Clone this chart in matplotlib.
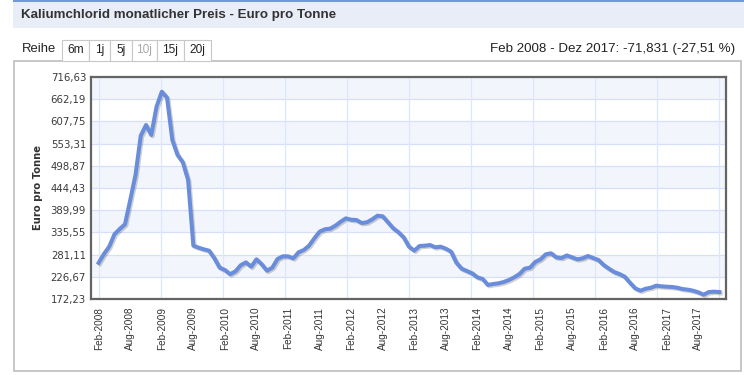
import matplotlib
matplotlib.use("Agg")
import matplotlib.pyplot as plt
import matplotlib.patheffects as pe
from matplotlib.patches import Rectangle
import pandas as pd

# monthly price, Feb 2008 .. Dec 2017 (Euro pro Tonne)
months = pd.date_range("2008-02-01", periods=119, freq="MS")
prices = [
    261.1, 282.6, 300.5, 330.9, 343.9, 355.4, 415.0, 476.3, 572.7, 598.9,
    574.4, 643.8, 680.5, 665.8, 562.1, 525.3, 507.4, 464.0, 303.0, 298.0,
    294.0, 290.7, 272.0, 249.0, 243.3, 233.0, 240.0, 255.0, 262.0, 251.5,
    269.5, 257.3, 241.6, 249.0, 270.3, 276.9, 276.9, 272.0, 286.7, 292.4,
    303.0, 321.0, 337.3, 343.1, 344.7, 352.0, 361.8, 370.0, 366.7, 365.9,
    358.6, 360.3, 367.6, 376.5, 375.0, 360.3, 345.6, 335.8, 323.0, 300.5,
    290.7, 302.2, 303.0, 304.6, 299.0, 300.5, 295.6, 288.2, 261.3, 246.6,
    240.9, 235.2, 225.4, 221.3, 206.6, 209.0, 210.7, 213.9, 218.8, 225.4,
    233.5, 246.6, 249.0, 263.0, 269.5, 281.8, 284.3, 274.4, 272.8, 279.0,
    274.4, 269.5, 272.0, 277.7, 272.8, 267.9, 255.6, 246.6, 238.4, 233.5,
    227.0, 212.2, 198.4, 192.6, 197.5, 199.9, 204.9, 203.3, 202.4, 201.7,
    199.9, 196.7, 195.1, 192.6, 188.6, 182.8, 189.3, 190.2, 189.3,
]
yticks = [172.23, 226.67, 281.11, 335.55, 389.99, 444.43, 498.87, 553.31, 607.75, 662.19, 716.63]
ranges = ["6m", "1j", "5j", "10j", "15j", "20j"]

W, H = 744, 375
fig = plt.figure(figsize=(W / 100, H / 100), dpi=100)

def fx(x):
    return x / W

def fy(y):
    return 1 - y / H

def box(x0, y0, x1, y1, **kw):
    fig.patches.append(Rectangle((fx(x0), fy(y1)), fx(x1) - fx(x0), fy(y0) - fy(y1),
                                 transform=fig.transFigure, zorder=-2, **kw))

# header band
box(13, 0, W, 28, facecolor="#e8edf8", edgecolor="none")
box(13, 0, W, 1.5, facecolor="#7197e0", edgecolor="none")
fig.text(fx(21), fy(15), "Kaliumchlorid monatlicher Preis - Euro pro Tonne",
         family="Liberation Sans", weight="bold", fontsize=9.6, color="#333333",
         va="center", ha="left")

# chart panel
box(14, 60.5, 741, 371, facecolor="white", edgecolor="#bdbdbd", lw=1.2)

# range buttons
fig.text(fx(22), fy(49), "Reihe", family="Liberation Sans", fontsize=9.4,
         color="#222222", va="center", ha="left")
edges = [61.7, 89.3, 110, 131.7, 156.7, 184, 210.7]
for k, lab in enumerate(ranges):
    box(edges[k], 40, edges[k + 1], 60.5, facecolor="white", edgecolor="#c8c8c8", lw=0.8)
    fig.text(fx((edges[k] + edges[k + 1]) / 2), fy(50), lab, family="Liberation Sans",
             fontsize=8.6, color="#aaaaaa" if lab == "10j" else "#222222",
             va="center", ha="center")

fig.text(fx(735), fy(49), "Feb 2008 - Dez 2017: -71,831 (-27,51 %)",
         family="Liberation Sans", fontsize=9.6, color="#222222", va="center", ha="right")

# plot area
ax = fig.add_axes([fx(91), fy(299), fx(726) - fx(91), fy(77) - fy(299)])
ax.set_xlim(-1.46, 119.26)
ax.set_ylim(yticks[0], yticks[-1])

for k in range(len(yticks) - 1):
    if k % 2 == 1:
        ax.axhspan(yticks[k], yticks[k + 1], facecolor="#f3f5fc", edgecolor="none", zorder=0)
for v in yticks:
    ax.axhline(v, color="#d5e0f8", lw=0.9, zorder=1)
step = (len(prices) - 1) / 10
for k in range(11):
    ax.axvline(k * step, color="#dce6fc", lw=0.9, zorder=1)

x = list(range(len(prices)))
ax.plot(x, prices, color="#6a8ddb", lw=2.9, solid_joinstyle="round", zorder=3,
        path_effects=[pe.SimpleLineShadow(offset=(1, -1), shadow_color="k", alpha=0.18),
                      pe.Normal()])

ax.set_yticks(yticks)
ax.set_yticklabels([f"{v:.2f}".replace(".", ",") for v in yticks],
                   fontsize=7.3, color="#3a3a3a")
tick_idx = list(range(0, len(prices), 6))
ax.set_xticks(tick_idx)
ax.set_xticklabels([months[i].strftime("%b-%Y") for i in tick_idx], rotation=90,
                   family="Liberation Sans", fontsize=7.2, color="#333333")
ax.tick_params(axis="y", length=0, pad=3.6)
ax.tick_params(axis="x", length=0, pad=5.5)
for s in ax.spines.values():
    s.set_color("#646464")
    s.set_linewidth(1.6)
    s.set_zorder(5)

fig.text(fx(38), fy(188), "Euro pro Tonne", rotation=90, fontsize=7.2, weight="bold",
         color="#333333", va="center", ha="center")

fig.savefig("out.png", dpi=100)
